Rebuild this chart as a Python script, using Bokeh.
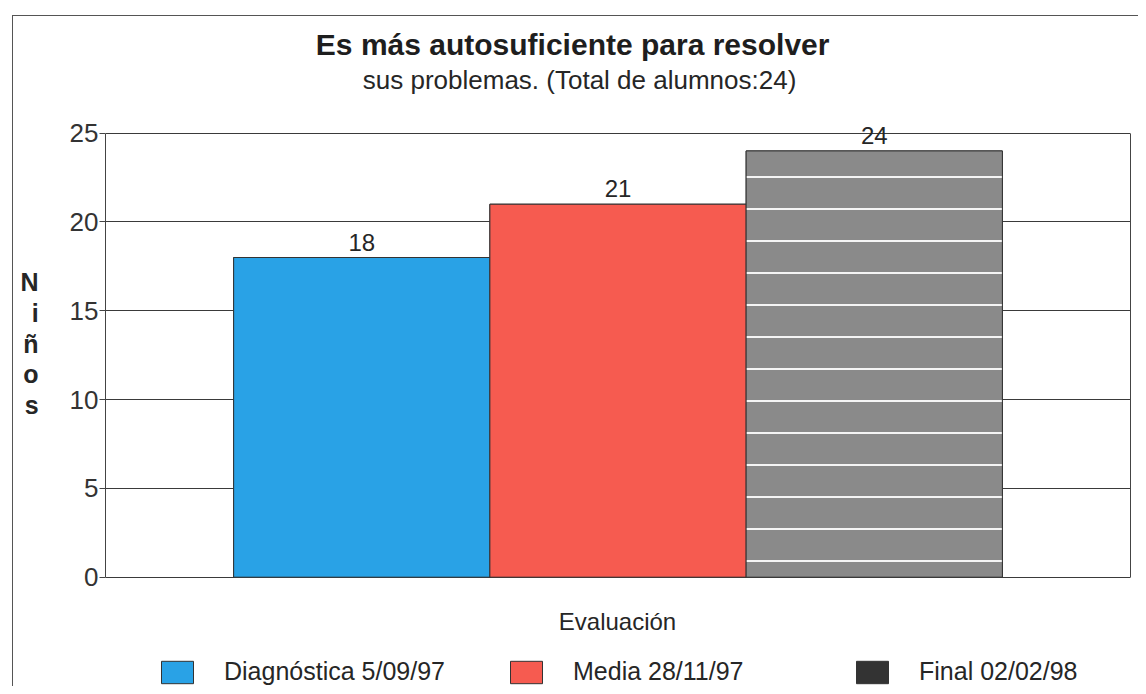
from bokeh.plotting import figure
from bokeh.models import (ColumnDataSource, FactorRange, Range1d, Label, LabelSet,
                          Legend, LegendItem, LinearAxis)
from bokeh.core.properties import value
from bokeh.embed import file_html
from bokeh.resources import INLINE

# ---- data ----
categories = ["Diagnóstica 5/09/97", "Media 28/11/97", "Final 02/02/98"]
values = [18, 21, 24]
colors = ["#29a2e6", "#f65b50", "#8a8a8a"]
hatches = [" ", " ", "-"]
y_ticks = [0, 5, 10, 15, 20, 25]
title_text = "Es más autosuficiente para resolver"
subtitle_text = "sus problemas. (Total de alumnos:24)"
x_label = "Evaluación"
y_label = "Niños"

FONT = "Liberation Sans"
INK = "#262626"

src = ColumnDataSource(dict(cat=categories, val=values, color=colors,
                            hatch=hatches, label=[str(v) for v in values]))

p = figure(width=1138, height=686,
           x_range=FactorRange(factors=categories, range_padding=1/3),
           y_range=Range1d(-6.154, 32.47),
           output_backend="svg", toolbar_location=None,
           min_border_left=105, min_border_right=8,
           min_border_top=0, min_border_bottom=0)
# scanned-page frame lines (left and top edge of the sheet)
p.styles = {"background": "linear-gradient(#555,#555) 12px 15px / 1px 100% no-repeat, "
                          "linear-gradient(#555,#555) 12px 15px / 100% 1px no-repeat, white"}
p.background_fill_alpha = 0
p.border_fill_alpha = 0
p.outline_line_color = None

p.xaxis.visible = False
p.xgrid.visible = False
p.ygrid.grid_line_color = "#3a3a3a"
p.ygrid.grid_line_width = 1

yax = p.yaxis[0]
yax.ticker = y_ticks
yax.bounds = (0, 25)
yax.major_label_text_font = FONT
yax.major_label_text_font_size = "26px"
yax.major_label_text_color = "#333333"
yax.major_tick_out = 6
yax.major_tick_in = 0
yax.minor_tick_line_color = None
yax.axis_line_color = "#444444"
yax.major_tick_line_color = "#444444"
yax.major_label_standoff = 1
yax.axis_label = "\n".join(y_label)
yax.axis_label_orientation = "horizontal"
yax.axis_label_text_font = FONT
yax.axis_label_text_font_size = "25px"
yax.axis_label_text_font_style = "bold"
yax.axis_label_text_color = INK
yax.axis_label_text_line_height = 1.1
yax.axis_label_text_baseline = "top"
yax.axis_label_standoff = 28

rax = LinearAxis(bounds=(0, 25), ticker=[], axis_line_color="#444444",
                 major_label_text_font_size="0px", major_tick_line_color=None,
                 minor_tick_line_color=None)
p.add_layout(rax, "right")

# dark key swatch renderer for the last series (fully covered by the bars drawn above it)
r_key = p.vbar(x="cat", top="val", width=1.0, source=src,
               fill_color="#333333", line_color="#333333")
r = p.vbar(x="cat", top="val", width=1.0, source=src,
           fill_color="color", line_color="#333333", line_width=1,
           hatch_pattern="hatch", hatch_color="white", hatch_scale=32,
           hatch_weight=2, hatch_alpha=0.9)

p.add_layout(LabelSet(x="cat", y="val", text="label", source=src,
                      y_offset=7, text_align="center", text_baseline="alphabetic",
                      text_font=value(FONT), text_font_size="24px",
                      text_color=INK))

p.add_layout(Label(x=1.323, y=29.99, text=title_text, text_align="center",
                   text_baseline="middle", text_font=FONT,
                   text_font_size="30px", text_font_style="bold",
                   text_color="#1e1e1e"))
p.add_layout(Label(x=1.35, y=28.02, text=subtitle_text, text_align="center",
                   text_baseline="middle", text_font=FONT,
                   text_font_size="26px", text_color=INK))
p.add_layout(Label(x=1.498, y=-2.494, text=x_label, text_align="center",
                   text_baseline="middle", text_font=FONT,
                   text_font_size="24px", text_color=INK))

legend_x = [52, 401, 747]
legend_items = [LegendItem(label=categories[0], renderers=[r], index=0),
                LegendItem(label=categories[1], renderers=[r], index=1),
                LegendItem(label=categories[2], renderers=[r_key], index=2)]
for i, item in enumerate(legend_items):
    lg = Legend(items=[item], location=(legend_x[i], 0), orientation="horizontal",
                border_line_color=None, background_fill_alpha=0,
                padding=0, margin=0, glyph_width=40, glyph_height=28,
                label_standoff=27, label_text_font=FONT,
                label_text_font_size="25px", label_text_color=INK)
    p.add_layout(lg)

open("out.html", "w").write(file_html(p, INLINE))
